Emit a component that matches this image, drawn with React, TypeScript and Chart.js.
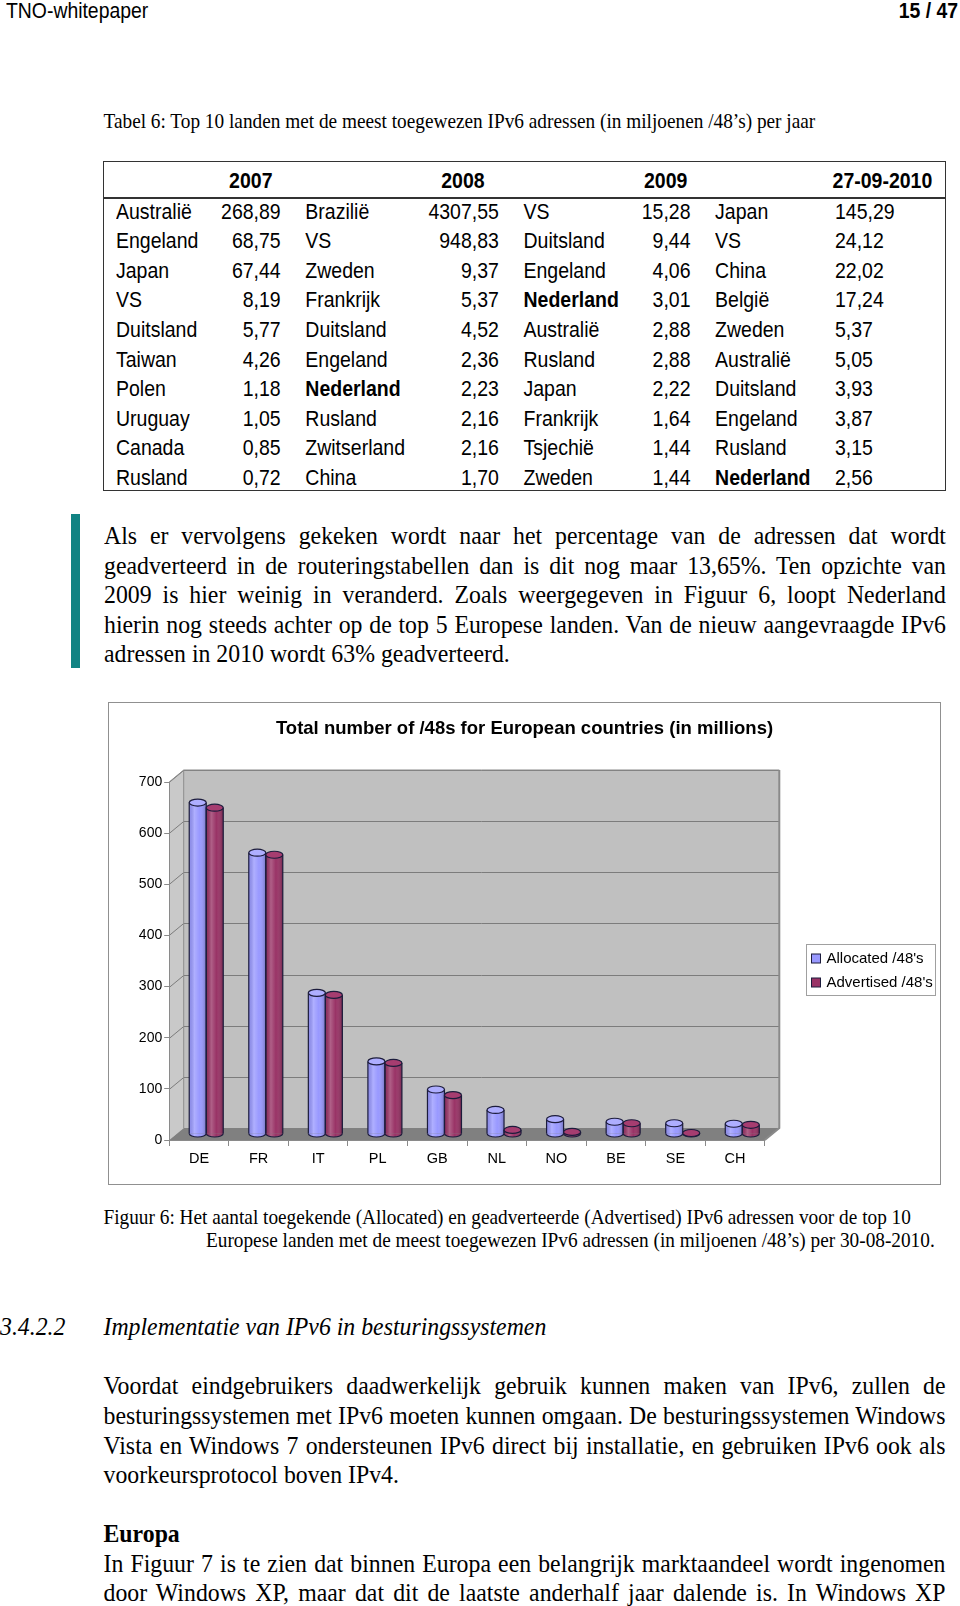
import React, { useEffect, useRef } from 'react';
import { Chart, registerables } from 'chart.js';

Chart.register(...registerables);

// ---------- chart data ----------
const categories = ['DE', 'FR', 'IT', 'PL', 'GB', 'NL', 'NO', 'BE', 'SE', 'CH'];
const allocated = [648, 550, 276, 142, 87, 47, 29, 24, 21, 20];
const advertised = [638, 546, 272, 139, 76, 8, 4, 21, 2, 18];
const seriesNames = ["Allocated /48's", "Advertised /48's"];
const seriesColors = ['#9999ff', '#993366'];
const capColors = ['#aeaeff', '#a63d70'];
const yMin = 0;
const yMax = 700;
const yStep = 100;
const chartTitle = 'Total number of /48s for European countries (in millions)';

// ---------- table data ----------
const tableYears = ['2007', '2008', '2009', '27-09-2010'];
const countries2007 = ['Australië', 'Engeland', 'Japan', 'VS', 'Duitsland', 'Taiwan', 'Polen', 'Uruguay', 'Canada', 'Rusland'];
const values2007 = ['268,89', '68,75', '67,44', '8,19', '5,77', '4,26', '1,18', '1,05', '0,85', '0,72'];
const countries2008 = ['Brazilië', 'VS', 'Zweden', 'Frankrijk', 'Duitsland', 'Engeland', 'Nederland', 'Rusland', 'Zwitserland', 'China'];
const values2008 = ['4307,55', '948,83', '9,37', '5,37', '4,52', '2,36', '2,23', '2,16', '2,16', '1,70'];
const countries2009 = ['VS', 'Duitsland', 'Engeland', 'Nederland', 'Australië', 'Rusland', 'Japan', 'Frankrijk', 'Tsjechië', 'Zweden'];
const values2009 = ['15,28', '9,44', '4,06', '3,01', '2,88', '2,88', '2,22', '1,64', '1,44', '1,44'];
const countries2010 = ['Japan', 'VS', 'China', 'België', 'Zweden', 'Australië', 'Duitsland', 'Engeland', 'Rusland', 'Nederland'];
const values2010 = ['145,29', '24,12', '22,02', '17,24', '5,37', '5,05', '3,93', '3,87', '3,15', '2,56'];

const para1 = [
  'Als er vervolgens gekeken wordt naar het percentage van de adressen dat wordt',
  'geadverteerd in de routeringstabellen dan is dit nog maar 13,65%. Ten opzichte van',
  '2009 is hier weinig in veranderd. Zoals weergegeven in Figuur 6, loopt Nederland',
  'hierin nog steeds achter op de top 5 Europese landen. Van de nieuw aangevraagde IPv6',
  'adressen in 2010 wordt 63% geadverteerd.',
];
const para2 = [
  'Voordat eindgebruikers daadwerkelijk gebruik kunnen maken van IPv6, zullen de',
  'besturingssystemen met IPv6 moeten kunnen omgaan. De besturingssystemen Windows',
  'Vista en Windows 7 ondersteunen IPv6 direct bij installatie, en gebruiken IPv6 ook als',
  'voorkeursprotocol boven IPv4.',
];
const para3 = [
  'In Figuur 7 is te zien dat binnen Europa een belangrijk marktaandeel wordt ingenomen',
  'door Windows XP, maar dat dit de laatste anderhalf jaar dalende is. In Windows XP',
];

const SANS = '"Liberation Sans", Arial, sans-serif';
const SERIF = '"Liberation Serif", "Times New Roman", serif';
const STRETCH = 'scaleY(1.1)';

type LProps = {
  x: number;
  y: number;
  size: number;
  family?: string;
  bold?: boolean;
  italic?: boolean;
  w?: number;
  align?: 'left' | 'right' | 'justify';
  children: React.ReactNode;
};

function L({ x, y, size, family = SERIF, bold, italic, w, align = 'left', children }: LProps) {
  const style: React.CSSProperties = {
    position: 'absolute',
    top: y - size,
    height: size * 2,
    lineHeight: `${size * 2}px`,
    fontSize: size,
    fontFamily: family,
    fontWeight: bold ? 700 : 400,
    fontStyle: italic ? 'italic' : 'normal',
    whiteSpace: 'nowrap',
    color: '#000',
    transform: STRETCH,
    transformOrigin: '50% 50%',
  };
  if (align === 'right') {
    style.left = x - 400;
    style.width = 400;
    style.textAlign = 'right';
  } else if (align === 'justify') {
    style.left = x;
    style.width = w;
    style.textAlign = 'justify';
    (style as any).textAlignLast = 'justify';
  } else {
    style.left = x;
  }
  return <div style={style}>{children}</div>;
}

function Paragraph({ lines, x, y0, pitch, w, size, lastJustified }: { lines: string[]; x: number; y0: number; pitch: number; w: number; size: number; lastJustified?: boolean }) {
  return (
    <>
      {lines.map((t, i) => (
        <L key={i} x={x} y={y0 + i * pitch} size={size} w={w} align={i === lines.length - 1 && !lastJustified ? 'left' : 'justify'}>
          {t}
        </L>
      ))}
    </>
  );
}

function ChartBox() {
  const ref = useRef<HTMLCanvasElement>(null);
  useEffect(() => {
    const canvas = ref.current;
    if (!canvas) return;
    const DX = 14.5;
    const DY = -12;
    const RY = 3.5;
    const BORDER = '#1c1c3c';

    const threeD = {
      id: 'threeD',
      beforeDraw(chart: any) {
        const { ctx, chartArea: a, scales } = chart;
        const ys = scales.y;
        ctx.save();
        // back wall
        ctx.fillStyle = '#c0c0c0';
        ctx.fillRect(a.left + DX, a.top + DY, a.right - a.left, a.bottom - a.top);
        // side wall
        ctx.fillStyle = '#c9c9c9';
        ctx.beginPath();
        ctx.moveTo(a.left, a.top);
        ctx.lineTo(a.left + DX, a.top + DY);
        ctx.lineTo(a.left + DX, a.bottom + DY);
        ctx.lineTo(a.left, a.bottom);
        ctx.closePath();
        ctx.fill();
        // gridlines on side + back wall
        ctx.strokeStyle = '#7c7c7c';
        ctx.lineWidth = 1;
        ys.ticks.forEach((t: any) => {
          if (t.value === yMin) return;
          const py = Math.round(ys.getPixelForValue(t.value)) + 0.5;
          ctx.beginPath();
          ctx.moveTo(a.left, py);
          ctx.lineTo(a.left + DX, py + DY);
          ctx.lineTo(a.right + DX, py + DY);
          ctx.stroke();
        });
        // floor
        ctx.fillStyle = '#808080';
        ctx.beginPath();
        ctx.moveTo(a.left, a.bottom);
        ctx.lineTo(a.right, a.bottom);
        ctx.lineTo(a.right + DX, a.bottom + DY);
        ctx.lineTo(a.left + DX, a.bottom + DY);
        ctx.closePath();
        ctx.fill();
        // edges
        ctx.strokeStyle = '#8a8a8a';
        ctx.lineWidth = 1;
        ctx.beginPath();
        ctx.moveTo(a.left + DX, a.bottom + DY);
        ctx.lineTo(a.left + DX, a.top + DY);
        ctx.lineTo(a.right + DX, a.top + DY);
        ctx.stroke();
        ctx.lineWidth = 2;
        ctx.beginPath();
        ctx.moveTo(a.right + DX, a.top + DY);
        ctx.lineTo(a.right + DX, a.bottom + DY);
        ctx.lineTo(a.right, a.bottom);
        ctx.stroke();
        ctx.lineWidth = 1;
        ctx.beginPath();
        ctx.moveTo(a.left, a.top);
        ctx.lineTo(a.left + DX, a.top + DY);
        ctx.stroke();
        ctx.restore();
      },
      beforeDatasetsDraw(chart: any) {
        chart.ctx.save();
        chart.ctx.translate(DX / 2, DY / 2);
      },
      afterDatasetsDraw(chart: any) {
        const ctx = chart.ctx;
        chart.data.datasets.forEach((ds: any, di: number) => {
          const meta = chart.getDatasetMeta(di);
          meta.data.forEach((bar: any) => {
            const { x, y, base, width } = bar.getProps(['x', 'y', 'base', 'width'], true);
            const l = x - width / 2;
            const r = x + width / 2;
            const rx = width / 2;
            const g = ctx.createLinearGradient(l, 0, r, 0);
            g.addColorStop(0, 'rgba(0,0,0,0.08)');
            g.addColorStop(0.3, 'rgba(255,255,255,0.22)');
            g.addColorStop(0.6, 'rgba(255,255,255,0)');
            g.addColorStop(1, 'rgba(0,0,0,0.25)');
            ctx.fillStyle = g;
            ctx.fillRect(l, y, width, base - y);
            ctx.beginPath();
            ctx.ellipse(x, base, rx, RY, 0, 0, Math.PI);
            ctx.fillStyle = ds.backgroundColor;
            ctx.fill();
            ctx.fillStyle = g;
            ctx.fill();
            ctx.strokeStyle = BORDER;
            ctx.lineWidth = 1.2;
            ctx.stroke();
            ctx.beginPath();
            ctx.moveTo(l, y);
            ctx.lineTo(l, base);
            ctx.moveTo(r, y);
            ctx.lineTo(r, base);
            ctx.stroke();
            ctx.beginPath();
            ctx.ellipse(x, y, rx, RY, 0, 0, Math.PI * 2);
            ctx.fillStyle = capColors[di];
            ctx.fill();
            ctx.stroke();
          });
        });
        ctx.restore();
      },
      afterDraw(chart: any) {
        const { ctx, chartArea: a } = chart;
        ctx.save();
        // title, centred over the whole chart box
        ctx.fillStyle = '#000';
        ctx.font = `bold 18.5px ${SANS}`;
        ctx.textAlign = 'center';
        ctx.textBaseline = 'middle';
        ctx.fillText(chartTitle, chart.width / 2, 26);
        // legend box
        const bx = Math.round(a.right + DX + 27) + 0.5;
        const bw = 129;
        const bh = 51;
        const by = Math.round((a.top + a.bottom) / 2 - 17) + 0.5;
        ctx.fillStyle = '#ffffff';
        ctx.fillRect(bx, by, bw, bh);
        ctx.strokeStyle = '#a0a0a0';
        ctx.lineWidth = 1;
        ctx.strokeRect(bx, by, bw, bh);
        ctx.font = `15px ${SANS}`;
        ctx.textAlign = 'left';
        chart.data.datasets.forEach((ds: any, i: number) => {
          const cy = by + 14 + i * 24;
          ctx.fillStyle = ds.backgroundColor;
          ctx.fillRect(bx + 5, cy - 4.5, 9, 9);
          ctx.strokeStyle = BORDER;
          ctx.strokeRect(bx + 5, cy - 4.5, 9, 9);
          ctx.fillStyle = '#000';
          ctx.fillText(ds.label, bx + 20, cy + 0.5);
        });
        ctx.restore();
      },
    };

    const chart = new Chart(canvas, {
      type: 'bar',
      data: {
        labels: categories,
        datasets: [
          {
            label: seriesNames[0],
            data: allocated,
            backgroundColor: seriesColors[0],
            borderColor: BORDER,
            borderWidth: 0,
            barPercentage: 1,
            categoryPercentage: 0.571,
          },
          {
            label: seriesNames[1],
            data: advertised,
            backgroundColor: seriesColors[1],
            borderColor: BORDER,
            borderWidth: 0,
            barPercentage: 1,
            categoryPercentage: 0.571,
          },
        ],
      },
      options: {
        responsive: false,
        animation: false,
        devicePixelRatio: 1,
        layout: { padding: { left: 0, right: 175.2, top: 79, bottom: 0 } },
        plugins: {
          legend: { display: false },
          tooltip: { enabled: false },
          title: { display: false },
        },
        scales: {
          x: {
            type: 'category',
            offset: true,
            grid: { display: true, drawOnChartArea: false, drawTicks: true, tickLength: 6, color: '#8a8a8a', offset: true },
            border: { display: true, color: '#8a8a8a' },
            ticks: { color: '#000', font: { family: SANS, size: 14.5 }, padding: 4, maxRotation: 0, autoSkip: false },
            afterFit: (s: any) => {
              s.height = 44;
            },
          },
          y: {
            min: yMin,
            max: yMax,
            grid: { display: true, drawOnChartArea: false, drawTicks: true, tickLength: 5, color: '#8a8a8a' },
            border: { display: true, color: '#8a8a8a' },
            ticks: { stepSize: yStep, color: '#000', font: { family: SANS, size: 14 }, padding: 2 },
            afterFit: (s: any) => {
              s.width = 60.2;
            },
          },
        },
      },
      plugins: [threeD],
    } as any);
    return () => chart.destroy();
  }, []);

  return (
    <>
      <canvas ref={ref} width={831} height={481} style={{ position: 'absolute', left: 109, top: 703, width: 831, height: 481 }} />
      <div
        style={{
          position: 'absolute',
          left: 108,
          top: 702,
          width: 833,
          height: 483,
          border: '1.5px solid #909090',
          boxSizing: 'border-box',
          pointerEvents: 'none',
        }}
      />
    </>
  );
}

export default function App() {
  useEffect(() => {
    document.body.style.margin = '0';
  }, []);

  const rowY = (i: number) => 211 + i * 29.6;
  const cols = [
    { names: countries2007, values: values2007, nameX: 116, valX: 280.7, valAlign: 'right' as const },
    { names: countries2008, values: values2008, nameX: 305.3, valX: 498.9, valAlign: 'right' as const },
    { names: countries2009, values: values2009, nameX: 523.5, valX: 690.5, valAlign: 'right' as const },
    { names: countries2010, values: values2010, nameX: 715.1, valX: 835, valAlign: 'left' as const },
  ];
  const headerRight = [272.5, 484.6, 687.4, 932.3];
  const TS = 19.5;

  return (
    <div style={{ position: 'absolute', left: 0, top: 0, width: 960, height: 1606, overflow: 'hidden', background: '#fff' }}>
      {/* page header */}
      <L x={6} y={10.5} size={19.4} family={SANS}>TNO-whitepaper</L>
      <L x={958} y={10.5} size={19.4} family={SANS} bold align="right">15 / 47</L>

      {/* table caption */}
      <L x={103.5} y={121} size={19.3}>Tabel 6: Top 10 landen met de meest toegewezen IPv6 adressen (in miljoenen /48’s) per jaar</L>

      {/* table */}
      <div style={{ position: 'absolute', left: 103, top: 161, width: 843, height: 330, border: '1.5px solid #333', boxSizing: 'border-box' }} />
      <div style={{ position: 'absolute', left: 103, top: 197, width: 843, height: 1.5, background: '#333' }} />
      {tableYears.map((yr, i) => (
        <L key={yr} x={headerRight[i]} y={180} size={TS} family={SANS} bold align="right">{yr}</L>
      ))}
      {cols.map((c, ci) =>
        c.names.map((n, ri) => (
          <React.Fragment key={`${ci}-${ri}`}>
            <L x={c.nameX} y={rowY(ri)} size={TS} family={SANS} bold={n === 'Nederland'}>{n}</L>
            <L x={c.valX} y={rowY(ri)} size={TS} family={SANS} align={c.valAlign}>{c.values[ri]}</L>
          </React.Fragment>
        ))
      )}

      {/* teal change bar */}
      <div style={{ position: 'absolute', left: 71, top: 514, width: 9, height: 154, background: '#118383' }} />

      <Paragraph lines={para1} x={104} y0={536} pitch={29.5} w={842} size={23.8} />

      <ChartBox />

      {/* figure caption */}
      <L x={103.5} y={1217} size={19.3}>Figuur 6: Het aantal toegekende (Allocated) en geadverteerde (Advertised) IPv6 adressen voor de top 10</L>
      <L x={206} y={1240.7} size={19.3}>Europese landen met de meest toegewezen IPv6 adressen (in miljoenen /48’s) per 30-08-2010.</L>

      {/* section heading */}
      <L x={0} y={1327} size={23.8} italic>3.4.2.2</L>
      <L x={103.5} y={1327} size={23.8} italic>Implementatie van IPv6 in besturingssystemen</L>

      <Paragraph lines={para2} x={103.5} y0={1386} pitch={29.7} w={842} size={23.8} />

      <L x={103.5} y={1534} size={23.8} bold>Europa</L>
      <Paragraph lines={para3} x={103.5} y0={1563.4} pitch={29.7} w={842} size={23.8} lastJustified />
    </div>
  );
}
